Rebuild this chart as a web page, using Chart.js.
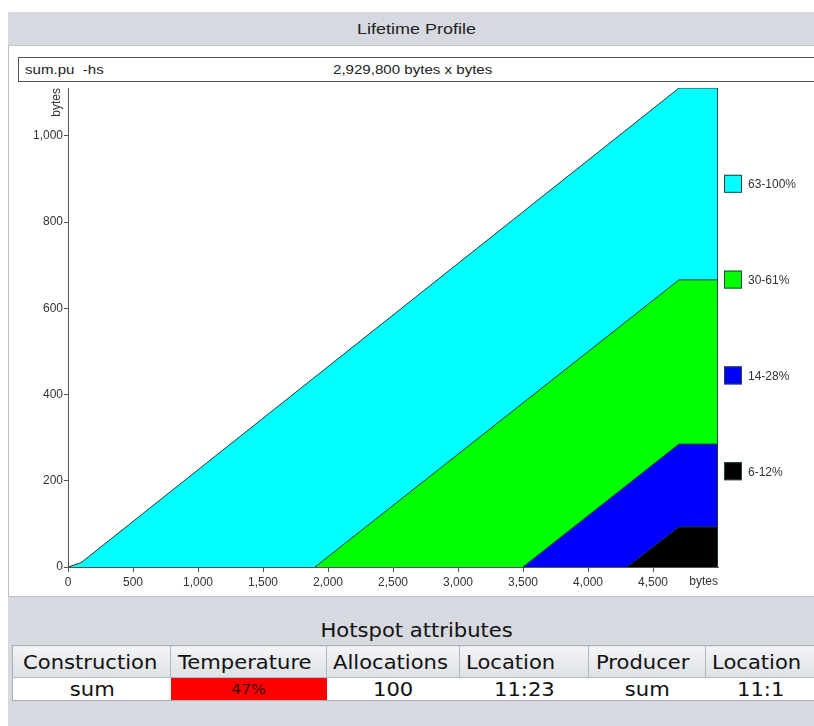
<!DOCTYPE html>
<html>
<head>
<meta charset="utf-8">
<script src="https://cdn.jsdelivr.net/npm/chart.js@4"></script>
<style>
  html, body { margin: 0; padding: 0; }
  body { width: 814px; height: 726px; overflow: hidden; background: #ffffff; position: relative; font-family: "Liberation Sans", Arial, sans-serif; }
  .wide { display: inline-block; transform: scaleX(1.16); }
  .wl { transform-origin: left center; }
  .wc { transform-origin: center center; }
  #frame { position: absolute; left: 8px; top: 12px; width: 830px; height: 714px; background: #d6d9df; }
  #titlebar { position: absolute; left: 0; top: 0; width: 818px; height: 33px; line-height: 33px; text-align: center; font-size: 15px; color: #222; border-bottom: 1px solid #c3c6cc; }
  #titlebar .wide { transform: scaleX(1.2); }
  #panel { position: absolute; left: 0; top: 34px; width: 830px; height: 551px; background: #ffffff; border-left: 1px solid #b9bcc2; border-bottom: 1px solid #b9bcc2; box-sizing: border-box; }
  #infobox { position: absolute; left: 9px; top: 11px; width: 830px; height: 25px; border: 1px solid #555; box-sizing: border-box; font-size: 13px; color: #222; line-height: 23px; }
  #infobox .cmd { position: absolute; left: 6px; }
  #infobox .size { position: absolute; left: 314px; }
  #plot { position: absolute; left: 0px; top: 72px; }
  #hotTitle { position: absolute; left: 0; top: 607px; width: 818px; text-align: center; font-family: "DejaVu Sans", sans-serif; font-size: 19px; color: #111; }
  #hotTitle .wide, #hot .wide { transform: scaleX(1.11); }
  #hot { position: absolute; left: 4px; top: 633px; border-collapse: collapse; border: 1px solid #a9adb5; font-family: "DejaVu Sans", sans-serif; font-size: 19px; table-layout: fixed; }
  #hot th { height: 31px; padding: 0; font-weight: normal; text-align: left; color: #111;
            background: linear-gradient(#f4f5f7, #dde0e5); border-right: 1px solid #b3b7bf; border-bottom: 1px solid #b3b7bf; white-space: nowrap; overflow: hidden; }
  #hot td { height: 22px; padding: 0; text-align: center; background: #ffffff; color: #111; white-space: nowrap; }
  #hot td.hot { background: #ff0000; color: #3a0000; font-size: 14px; }
</style>
</head>
<body>
<div id="frame">
  <div id="titlebar"><span class="wide wc">Lifetime Profile</span></div>
  <div id="panel">
    <div id="infobox"><span class="cmd"><span class="wide wl">sum.pu&nbsp;&nbsp;-hs</span></span><span class="size"><span class="wide wl">2,929,800 bytes x bytes</span></span></div>
  </div>
  <canvas id="plot" width="806" height="513"></canvas>
  <div id="hotTitle"><span class="wide wc">Hotspot attributes</span></div>
  <table id="hot">
    <colgroup>
      <col style="width:158px"><col style="width:156px"><col style="width:133px"><col style="width:129px"><col style="width:117px"><col style="width:130px">
    </colgroup>
    <tr>
      <th style="padding-left:10px"><span class="wide wl">Construction</span></th>
      <th style="padding-left:7px"><span class="wide wl">Temperature</span></th>
      <th style="padding-left:6px"><span class="wide wl">Allocations</span></th>
      <th style="padding-left:6px"><span class="wide wl">Location</span></th>
      <th style="padding-left:7px"><span class="wide wl">Producer</span></th>
      <th style="padding-left:6px"><span class="wide wl">Location</span></th>
    </tr>
    <tr>
      <td><span class="wide wc">sum</span></td>
      <td class="hot"><span class="wide wc">47%</span></td>
      <td><span class="wide wc">100</span></td>
      <td><span class="wide wc">11:23</span></td>
      <td><span class="wide wc">sum</span></td>
      <td style="text-align:left;padding-left:31px"><span class="wide wl">11:1</span></td>
    </tr>
  </table>
</div>

<script>
// Lifetime bands: object size (bytes) on x, cumulative bytes on y
const bandLabels = ['63-100%', '30-61%', '14-28%', '6-12%'];
const bandColors = ['#00ffff', '#00ff00', '#0000ff', '#000000'];

const band63X = [0, 100, 4700, 5000, 5000];
const band63Y = [0, 10, 1111, 1111, 0];
const band30X = [1900, 4700, 5000, 5000];
const band30Y = [0, 666, 666, 0];
const band14X = [3500, 4700, 5000, 5000];
const band14Y = [0, 285, 285, 0];
const band6X  = [4300, 4700, 5000, 5000];
const band6Y  = [0, 93, 93, 0];

const xTickValues = [0, 500, 1000, 1500, 2000, 2500, 3000, 3500, 4000, 4500];
const yTickValues = [0, 200, 400, 600, 800, 1000];
const xMax = 5000;
const yMax = 1111;

const bandXs = [band63X, band30X, band14X, band6X];
const bandYs = [band63Y, band30Y, band14Y, band6Y];

function points(xs, ys) { return xs.map((x, i) => ({ x: x, y: ys[i] })); }

const datasets = bandLabels.map((label, i) => ({
  label: label,
  data: points(bandXs[i], bandYs[i]),
  backgroundColor: bandColors[i],
  borderColor: '#1d3a3a',
  borderWidth: 1,
  pointRadius: 0,
  tension: 0,
  fill: 'origin',
  order: bandLabels.length - i   // smaller bands are painted over larger ones
}));

const tickFont = { family: 'Liberation Sans, Arial, sans-serif', size: 12 };

// Legend column to the right of the plot, spread evenly over its height
const bandLegend = {
  id: 'bandLegend',
  afterDraw(chart) {
    const { ctx, chartArea } = chart;
    const h = chartArea.bottom - chartArea.top;
    ctx.save();
    ctx.font = '12px Liberation Sans, Arial, sans-serif';
    ctx.textBaseline = 'middle';
    chart.data.datasets.forEach((ds, i) => {
      const cy = chartArea.top + h * (i + 1) / (chart.data.datasets.length + 1);
      const bx = chartArea.right + 6;
      ctx.fillStyle = ds.backgroundColor;
      ctx.fillRect(bx, cy - 9, 18, 18);
      ctx.strokeStyle = '#2a4444';
      ctx.lineWidth = 1;
      ctx.strokeRect(bx + 0.5, cy - 8.5, 17, 17);
      ctx.fillStyle = '#333';
      ctx.fillText(ds.label, bx + 24, cy + 1);
    });
    ctx.restore();
  }
};

// Unit captions at the ends of both axes
const unitCaptions = {
  id: 'unitCaptions',
  afterDraw(chart) {
    const { ctx, chartArea } = chart;
    ctx.save();
    ctx.font = '12px Liberation Sans, Arial, sans-serif';
    ctx.fillStyle = '#333';
    ctx.textAlign = 'right';
    ctx.textBaseline = 'middle';
    ctx.fillText('bytes', chartArea.right, chartArea.bottom + 15);
    ctx.translate(chartArea.left - 11, chartArea.top);
    ctx.rotate(-Math.PI / 2);
    ctx.fillText('bytes', 0, 0);
    ctx.restore();
  }
};

new Chart(document.getElementById('plot'), {
  type: 'line',
  data: { datasets: datasets },
  plugins: [bandLegend, unitCaptions],
  options: {
    responsive: false,
    animation: false,
    layout: { padding: { top: 4, right: 96, left: 0, bottom: 0 } },
    plugins: { legend: { display: false }, tooltip: { enabled: false } },
    scales: {
      x: {
        type: 'linear',
        min: 0,
        max: xMax,
        afterBuildTicks(scale) { scale.ticks = xTickValues.map(v => ({ value: v })); },
        afterFit(scale) { scale.height = 30; scale.paddingLeft = 0; scale.paddingRight = 0; },
        grid: { display: true, drawOnChartArea: false, drawTicks: true, tickLength: 5, color: '#555' },
        border: { display: true, color: '#555', width: 1 },
        ticks: { font: tickFont, color: '#333', padding: 3, maxRotation: 0, autoSkip: false }
      },
      y: {
        type: 'linear',
        min: 0,
        max: yMax,
        afterBuildTicks(scale) { scale.ticks = yTickValues.map(v => ({ value: v })); },
        afterFit(scale) { scale.width = 60; scale.paddingTop = 0; scale.paddingBottom = 0; },
        grid: { display: true, drawOnChartArea: false, drawTicks: true, tickLength: 4, color: '#555' },
        border: { display: true, color: '#555', width: 1 },
        ticks: { font: tickFont, color: '#333', padding: 1, autoSkip: false }
      }
    }
  }
});
</script>
</body>
</html>
